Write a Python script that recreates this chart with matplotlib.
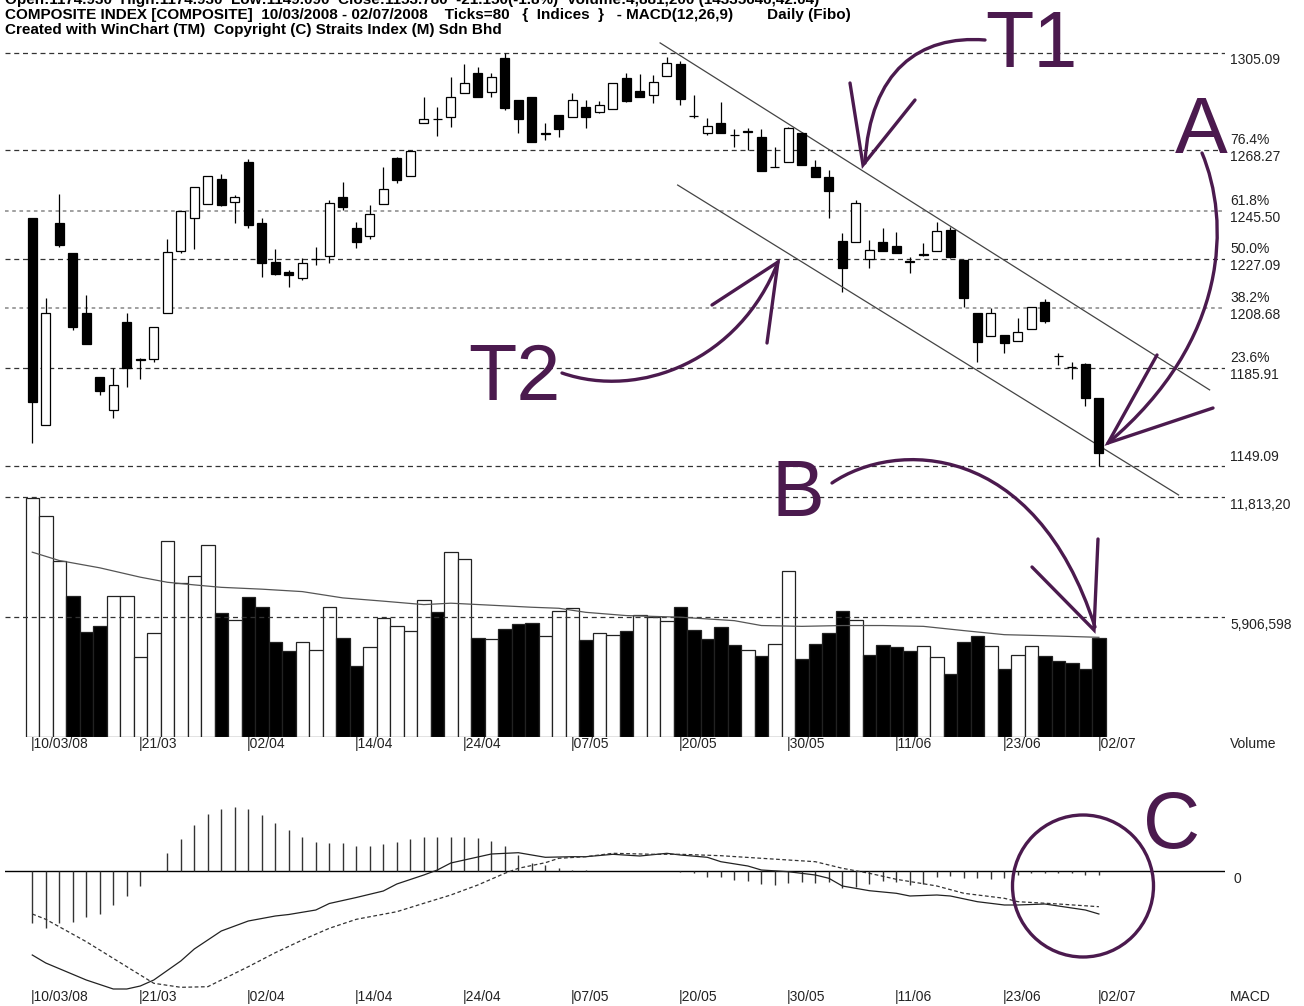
import matplotlib
matplotlib.use("Agg")
import matplotlib.pyplot as plt
import numpy as np
from matplotlib.path import Path
from matplotlib.patches import PathPatch, Ellipse

# ---- data ----
opens = [1242.6, 1164.5, 1240.7, 1229.4, 1207.0, 1182.8, 1170.2, 1203.6, 1189.5, 1189.4,
         1207.0, 1230.4, 1242.6, 1248.0, 1257.4, 1248.7, 1264.0, 1241.0, 1226.2, 1222.5,
         1220.0, 1227.2, 1228.4, 1250.8, 1238.9, 1236.0, 1248.0, 1265.3, 1258.6, 1278.8,
         1280.1, 1280.8, 1289.9, 1297.4, 1290.5, 1303.1, 1287.3, 1288.4, 1275.0, 1281.7,
         1280.8, 1284.8, 1282.9, 1283.8, 1295.5, 1290.8, 1289.2, 1296.4, 1300.9, 1281.4,
         1274.8, 1278.8, 1274.2, 1275.3, 1273.5, 1262.0, 1264.0, 1274.8, 1262.1, 1258.1,
         1234.2, 1233.8, 1227.1, 1233.8, 1232.2, 1226.3, 1228.6, 1230.4, 1238.2, 1226.9,
         1207.0, 1198.2, 1198.6, 1196.4, 1200.7, 1211.1, 1190.7, 1186.4, 1187.6, 1174.9]
highs = [1242.6, 1212.4, 1251.8, 1229.4, 1213.7, 1182.8, 1186.0, 1206.7, 1189.9, 1201.5,
         1234.7, 1245.5, 1254.4, 1258.6, 1259.4, 1251.4, 1264.9, 1242.6, 1230.9, 1223.1,
         1227.5, 1231.7, 1249.5, 1256.5, 1241.4, 1247.7, 1262.1, 1265.9, 1268.4, 1288.4,
         1284.6, 1295.9, 1300.9, 1299.7, 1297.6, 1305.1, 1287.3, 1288.4, 1278.8, 1281.7,
         1290.1, 1287.3, 1287.1, 1293.6, 1297.6, 1297.2, 1296.8, 1303.7, 1302.2, 1289.2,
         1280.4, 1286.7, 1276.3, 1276.6, 1276.3, 1269.5, 1277.0, 1275.4, 1264.7, 1260.9,
         1237.0, 1249.5, 1234.4, 1238.9, 1237.6, 1228.1, 1233.2, 1241.4, 1239.5, 1226.9,
         1207.0, 1208.6, 1198.6, 1204.9, 1209.0, 1212.0, 1191.6, 1188.5, 1187.9, 1174.9]
lows = [1157.6, 1164.5, 1231.9, 1200.4, 1195.2, 1175.9, 1167.1, 1179.0, 1181.8, 1188.5,
        1206.7, 1229.4, 1230.9, 1248.0, 1247.3, 1241.0, 1238.9, 1220.6, 1221.2, 1216.6,
        1219.3, 1225.0, 1225.9, 1245.8, 1231.3, 1234.7, 1248.0, 1255.9, 1258.6, 1278.8,
        1273.7, 1277.0, 1289.9, 1288.4, 1288.4, 1283.6, 1275.0, 1271.6, 1272.2, 1273.5,
        1280.8, 1276.6, 1282.3, 1283.8, 1286.7, 1288.4, 1286.1, 1296.4, 1285.4, 1280.5,
        1274.1, 1275.0, 1269.5, 1268.4, 1260.6, 1262.0, 1264.0, 1262.8, 1258.4, 1242.6,
        1214.9, 1233.8, 1223.7, 1230.3, 1229.4, 1221.9, 1228.4, 1230.4, 1227.5, 1209.2,
        1188.5, 1198.2, 1191.6, 1196.4, 1200.7, 1203.2, 1187.2, 1181.8, 1171.7, 1149.1]
closes = [1173.1, 1206.7, 1232.5, 1201.5, 1195.2, 1177.5, 1179.7, 1186.0, 1189.1, 1201.5,
          1230.0, 1245.5, 1254.4, 1258.6, 1247.7, 1250.8, 1240.1, 1225.6, 1221.6, 1221.2,
          1225.9, 1227.1, 1248.5, 1247.0, 1233.8, 1244.3, 1253.6, 1257.1, 1268.2, 1280.2,
          1280.0, 1288.6, 1293.6, 1288.4, 1296.1, 1284.2, 1280.0, 1271.6, 1274.4, 1276.3,
          1287.3, 1280.8, 1285.4, 1293.6, 1287.0, 1288.4, 1294.2, 1301.2, 1287.6, 1281.2,
          1277.5, 1275.0, 1274.0, 1275.4, 1260.6, 1262.1, 1276.6, 1262.8, 1258.4, 1253.1,
          1223.7, 1248.5, 1230.6, 1230.3, 1229.4, 1226.2, 1229.0, 1238.0, 1227.9, 1212.4,
          1196.0, 1206.7, 1195.4, 1199.8, 1209.0, 1204.0, 1190.6, 1186.3, 1174.6, 1153.8]

# volume in millions of shares
volume = [11.78, 10.88, 8.70, 6.97, 5.17, 5.46, 6.97, 6.94, 3.94, 5.14,
          9.65, 7.58, 7.93, 9.48, 6.12, 5.78, 6.89, 6.43, 4.71, 4.27,
          4.68, 4.30, 6.40, 4.89, 3.53, 4.43, 5.87, 5.50, 5.22, 6.78,
          6.15, 9.14, 8.78, 4.89, 4.84, 5.33, 5.58, 5.63, 4.97, 6.24,
          6.37, 4.81, 5.14, 5.01, 5.22, 6.04, 5.94, 5.71, 6.43, 5.28,
          4.84, 5.42, 4.55, 4.30, 3.99, 4.59, 8.17, 3.86, 4.59, 5.14,
          6.20, 5.78, 4.07, 4.55, 4.43, 4.27, 4.51, 3.94, 3.12, 4.71,
          4.97, 4.51, 3.36, 4.05, 4.51, 3.99, 3.74, 3.66, 3.36, 4.88]
vol_avg_idx = [0, 2, 5, 8, 10, 12, 14, 17, 20, 23, 26, 29, 31, 34, 37, 39, 41, 44, 48,
               52, 54, 57, 60, 63, 66, 69, 72, 75, 79]
vol_avg = [9.11, 8.70, 8.34, 7.88, 7.63, 7.50, 7.38, 7.29, 7.17, 6.86, 6.70, 6.53, 6.60,
           6.50, 6.40, 6.35, 6.15, 5.99, 5.91, 5.74, 5.50, 5.46, 5.50, 5.50, 5.46, 5.25,
           5.05, 5.00, 4.92]

# MACD(12,26,9), chart units
macd_hist = [-52.3, -57.3, -52.3, -50.7, -45.7, -43, -34, -25, -15, 0,
             17.7, 32, 46, 57, 61.7, 64.3, 61.7, 56, 48.3, 41,
             34.3, 29.3, 28.3, 28.3, 25, 25, 26.7, 29.3, 32, 34.3,
             34.3, 34.3, 33.7, 32.7, 30.3, 25, 16, 7.7, 6, 2.7,
             1, 1, 0.5, 0.5, 0.3, 0.3, 0, 0.5, -1, -2.3,
             -5.7, -6.3, -9, -9.7, -13, -14, -11.7, -10.7, -11.7, -10.7,
             -17.3, -15.7, -13, -9.7, -10.7, -14, -13, -5.7, -5, -7.3,
             -7.3, -8.3, -7.3, -4, -2.3, -2.3, -2.3, -2.3, -4, -4]
macd_idx = [0, 1, 4, 6, 7, 8, 9, 11, 12, 14, 16, 18, 19, 21, 22, 24, 26, 27, 28, 29, 30,
            31, 33, 34, 36, 37, 38, 40, 41, 43, 45, 47, 48, 50, 51, 53, 54, 56, 58, 59,
            60, 62, 64, 65, 67, 68, 70, 72, 73, 75, 76, 78, 79]
macd_line = [-84, -92, -109, -118, -118, -115, -109, -90, -78, -60, -50, -45, -43.5, -39,
             -32.5, -26.5, -20, -13, -8.5, -4, 1, 8, 14, 17, 18.3, 16, 13.7, 14.3, 14.3,
             16.7, 15, 17.7, 16, 13.7, 9.3, 5, 1, -0.7, -4, -7.3, -15, -19.7, -22.3, -25,
             -24, -25, -30.7, -34, -34, -33, -35, -39, -43]
signal_idx = [0, 1, 4, 7, 9, 11, 13, 14, 16, 18, 20, 22, 24, 27, 29, 31, 33, 35, 36, 38,
              39, 41, 43, 46, 48, 51, 54, 58, 60, 62, 64, 67, 69, 72, 73, 76, 79]
signal_line = [-43, -48.3, -70.7, -95.7, -112.3, -116.3, -115.7, -109, -95.7, -81.7, -69,
               -57.3, -48.3, -40.7, -32.3, -24, -14, -2.3, 2.7, 8.3, 12.7, 14.3, 17.7,
               16.7, 16.7, 15.3, 12.7, 9.3, 2.7, -2.3, -8.3, -15, -22.3, -27.3, -30.7,
               -33, -35.7]

fib_levels = [1305.09, 1268.27, 1245.50, 1227.09, 1208.68, 1185.91, 1149.09]
fib_pct = ["", "76.4%", "61.8%", "50.0%", "38.2%", "23.6%", ""]
vol_levels = [11.813196, 5.906598]
vol_level_labels = ["11,813,20", "5,906,598"]

tick_idx = [0, 8, 16, 24, 32, 40, 48, 56, 64, 72, 79]
tick_labels = ["10/03/08", "21/03", "02/04", "14/04", "24/04", "07/05",
               "20/05", "30/05", "11/06", "23/06", "02/07"]

# channel lines drawn on the chart (bar index, price)
upper_x, upper_y = [46.5, 87.2], [1308.9, 1177.8]
lower_x, lower_y = [47.8, 84.9], [1255.2, 1138.1]

# ---- figure ----
W, H = 1304, 1006
fig = plt.figure(figsize=(W / 100, H / 100), dpi=100)
LBL = dict(family=["Liberation Sans", "DejaVu Sans"], fontsize=10, color="#222")
PURPLE = "#4b1a4e"


def px_axes(x0, y0, x1, y1):
    ax = fig.add_axes([x0 / W, 1 - y1 / H, (x1 - x0) / W, (y1 - y0) / H])
    ax.set_axis_off()
    ax.set_xlim(-2.02, 88.34)
    return ax


x = np.arange(len(closes))
o, c = np.array(opens), np.array(closes)

# price panel
ax_p = px_axes(5, 40, 1225, 500)
ax_p.set_ylim(1136.2, 1310.0)
for lvl, pct in zip(fib_levels, fib_pct):
    grey = pct in ("61.8%", "38.2%")
    ax_p.axhline(lvl, color="#999" if grey else "#333", lw=1.3 if grey else 0.9,
                 ls=(0, (2, 2)) if grey else (0, (4, 3)))
    below = lvl != min(fib_levels)
    ax_p.annotate(f"{lvl:.2f}", (1, lvl), xycoords=("axes fraction", "data"),
                  xytext=(5, -7 if below else 9), textcoords="offset pixels",
                  va="center", ha="left", **LBL)
    if pct:
        ax_p.annotate(pct, (1, lvl), xycoords=("axes fraction", "data"),
                      xytext=(5, 10), textcoords="offset pixels",
                      va="center", ha="left", **LBL)

ax_p.vlines(x, lows, highs, color="black", lw=0.9, zorder=2)
body_col = np.where(c >= o, "white", "black")
ax_p.bar(x, np.maximum(np.abs(c - o), 0.15), bottom=np.minimum(o, c), width=0.66,
         color=body_col, edgecolor="black", linewidth=0.9, zorder=3)
ax_p.plot(upper_x, upper_y, color="#444", lw=0.9)
ax_p.plot(lower_x, lower_y, color="#444", lw=0.9)

# volume panel
ax_v = px_axes(5, 490, 1225, 737.3)
ax_v.set_ylim(0, 12.17)
for lvl, lab in zip(vol_levels, vol_level_labels):
    ax_v.axhline(lvl, color="#333", lw=0.9, ls=(0, (4, 3)))
    ax_v.annotate(lab, (1, lvl), xycoords=("axes fraction", "data"), xytext=(5, -8),
                  textcoords="offset pixels", va="center", ha="left", **LBL)
vol_col = ["white"] + ["white" if c[i] >= c[i - 1] else "black" for i in range(1, len(c))]
ax_v.bar(x, volume, width=1.0, color=vol_col, edgecolor="#222", linewidth=0.9)
ax_v.plot(vol_avg_idx, vol_avg, color="#555", lw=0.9)

# MACD panel
ax_m = px_axes(5, 760, 1225, 990)
ax_m.set_ylim(-119, 111)
ax_m.axhline(0, color="black", lw=1.0)
ax_m.vlines(x, 0, macd_hist, color="#333", lw=1.0)
ax_m.plot(macd_idx, macd_line, color="#222", lw=0.9, clip_on=False)
ax_m.plot(signal_idx, signal_line, color="#333", lw=0.9, ls=(0, (3, 2)), clip_on=False)
ax_m.annotate("0", (1, 0), xycoords=("axes fraction", "data"), xytext=(8, -8),
              textcoords="offset pixels", va="center", ha="left", **LBL)

for ax, name in ((ax_v, "Volume"), (ax_m, "MACD")):
    for i, lab in zip(tick_idx, tick_labels):
        ax.annotate("|" + lab, (i - 0.12, 0), xycoords=("data", "axes fraction"),
                    xytext=(0, -7), textcoords="offset pixels", va="center", ha="left", **LBL)
    ax.annotate(name, (1, 0), xycoords="axes fraction", xytext=(5, -7),
                textcoords="offset pixels", va="center", ha="left", **LBL)

# header
HDR = dict(family=["Liberation Sans", "DejaVu Sans"], fontsize=11, fontweight="bold", color="black")
fig.text(5 / W, 1 - 4 / H, "Open:1174.930  High:1174.930  Low:1149.090  Close:1153.780  "
         "-21.150(-1.8%)  Volume:4,881,200 (14335646,42.04)", va="baseline", **HDR)
fig.text(5 / W, 1 - 18.5 / H, "COMPOSITE INDEX [COMPOSITE]  10/03/2008 - 02/07/2008    Ticks=80   "
         "{  Indices  }   - MACD(12,26,9)        Daily (Fibo)", va="baseline", **HDR)
fig.text(5 / W, 1 - 34 / H, "Created with WinChart (TM)  Copyright (C) Straits Index (M) Sdn Bhd",
         va="baseline", **HDR)

# hand-drawn purple annotations (pixel overlay)
ax_o = fig.add_axes([0, 0, 1, 1], zorder=10)
ax_o.set_xlim(0, W)
ax_o.set_ylim(H, 0)
ax_o.set_axis_off()
ax_o.patch.set_alpha(0)


def stroke(pts):
    codes = [Path.MOVETO] + [Path.CURVE4] * (len(pts) - 1)
    ax_o.add_patch(PathPatch(Path(pts, codes), fill=False, ec=PURPLE, lw=2.4, capstyle="round"))


def arms(tip, a, b):
    ax_o.plot([a[0], tip[0], b[0]], [a[1], tip[1], b[1]], color=PURPLE, lw=2.4,
              solid_capstyle="round", solid_joinstyle="miter")


stroke([(985, 40), (920, 35), (870, 70), (865, 163)])
arms((863, 165), (850, 83), (915, 100))
stroke([(1202, 153), (1230, 220), (1230, 340), (1108, 443)])
arms((1108, 443), (1157, 355), (1213, 408))
stroke([(562, 373), (640, 400), (740, 360), (778, 262)])
arms((778, 262), (712, 305), (767, 343))
stroke([(832, 483), (895, 440), (1035, 440), (1095, 627)])
arms((1094, 630), (1032, 567), (1098, 539))
ax_o.add_patch(Ellipse((1083, 886), 141, 142, fill=False, ec=PURPLE, lw=2.4))

BIG = dict(family=["Liberation Sans", "DejaVu Sans"], fontsize=57, color=PURPLE, va="baseline")
ax_o.text(985, 67, "T1", **BIG)
ax_o.text(468, 400, "T2", **BIG)
ax_o.text(1175, 153, "A", **BIG)
ax_o.text(772, 516, "B", **BIG)
ax_o.text(1143, 848, "C", **BIG)

fig.savefig("out.png", dpi=100)
